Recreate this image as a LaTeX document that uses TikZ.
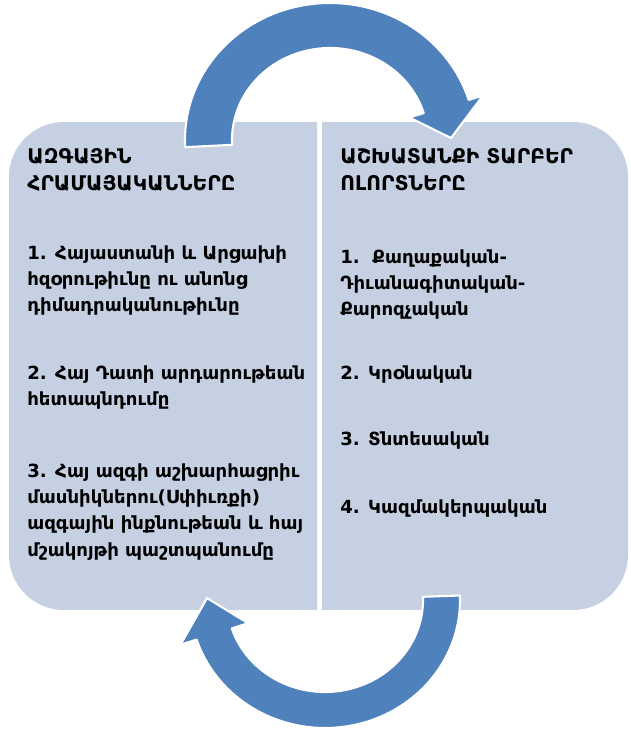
\documentclass[tikz,border=0pt]{standalone}
\usepackage{fontspec}
\newfontfamily\armfont{DejaVu Sans}
\usetikzlibrary{calc}
\definecolor{boxfill}{RGB}{197,208,227}
\definecolor{arrowblue}{RGB}{79,129,189}
\tikzset{
	txt/.style={anchor=north west, align=left, inner sep=0pt, font=\armfont\bfseries\fontsize{10.3}{15}\selectfont},
	headtxt/.style={txt, font=\armfont\bfseries\fontsize{11.5}{15.3}\selectfont},
	bigarrow/.style={fill=arrowblue, draw=white, line width=1.2pt, line join=round}
}
\begin{document}
\begin{tikzpicture}[x=0.02cm, y=0.02cm, line cap=round]
			\useasboundingbox (0,0) rectangle (630,734);
			\fill[boxfill] (317,124) -- (64,124) arc[start angle=270,end angle=180,radius=55] -- (9,557) arc[start angle=180,end angle=90,radius=55] -- (317,612) -- cycle;
			\fill[boxfill] (322,124) -- (573,124) arc[start angle=-90,end angle=0,radius=55] -- (628,557) arc[start angle=0,end angle=90,radius=55] -- (322,612) -- cycle;
			\coordinate (ctop) at (330,594);
			\coordinate (cbot) at (325,134);
			\draw[bigarrow] ($(ctop)+(183:145 and 137)$) arc[start angle=183,end angle=17,x radius=145,y radius=137] -- ($(ctop)+(17:160 and 152)$) -- ($(ctop)+(1:121 and 114)$) -- ($(ctop)+(17:83 and 77)$) -- ($(ctop)+(17:98 and 92)$) arc[start angle=17,end angle=183,x radius=98,y radius=92] -- cycle;
			\draw[bigarrow] ($(cbot)+(2:135 and 128)$) arc[start angle=2,end angle=-162,x radius=135,y radius=128] -- ($(cbot)+(-162:152 and 145)$) -- ($(cbot)+(-181:118 and 110)$) -- ($(cbot)+(-162:81 and 75)$) -- ($(cbot)+(-162:98 and 92)$) arc[start angle=-162,end angle=2,x radius=98,y radius=92] -- cycle;
			\node[headtxt] (lhead) at (27,586) {ԱԶԳԱՅԻՆ\\ՀՐԱՄԱՅԱԿԱՆՆԵՐԸ};
			\node[txt] (litem1) at (27,489) {1. Հայաստանի և Արցախի\\հզօրութիւնը ու անոնց\\դիմադրականութիւնը};
			\node[txt] (litem2) at (27,369) {2. Հայ Դատի արդարութեան\\հետապնդումը};
			\node[txt] (litem3) at (27,271) {3. Հայ ազգի աշխարհացրիւ\\մասնիկներու(Սփիւռքի)\\ազգային ինքնութեան և հայ\\մշակոյթի պաշտպանումը};
			\node[headtxt] (rhead) at (340,586) {ԱՇԽԱՏԱՆՔԻ ՏԱՐԲԵՐ\\ՈԼՈՐՏՆԵՐԸ};
			\node[txt] (ritem1) at (340,485) {1.~~Քաղաքական-\\Դիւանագիտական-\\Քարոզչական};
			\node[txt] (ritem2) at (340,369) {2. Կրօնական};
			\node[txt] (ritem3) at (340,303) {3. Տնտեսական};
			\node[txt] (ritem4) at (340,235) {4. Կազմակերպական};
		\end{tikzpicture}
\end{document}
